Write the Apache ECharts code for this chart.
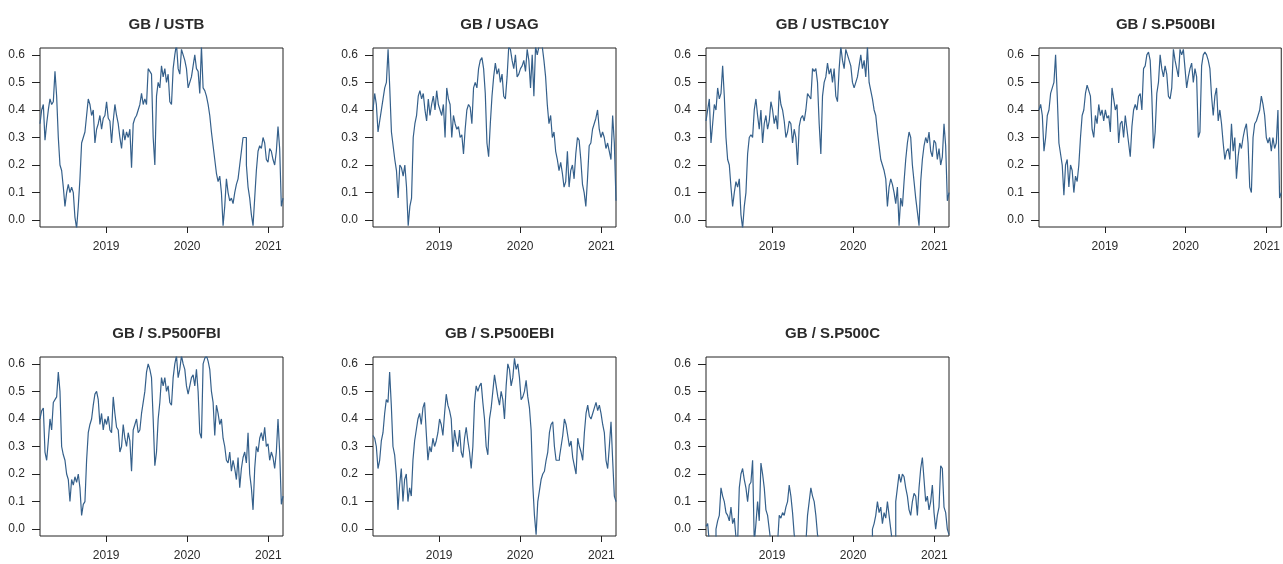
<!DOCTYPE html>
<html>
<head>
<meta charset="utf-8">
<title>GB correlations</title>
<script src="https://cdn.jsdelivr.net/npm/echarts@6/dist/echarts.min.js"></script>
<style>
  html, body { margin: 0; padding: 0; background: #fff; }
  #chart { width: 1283px; height: 564px; }
</style>
</head>
<body>
<div id="chart"></div>
<script>
// panel titles
var titles = ['GB / USTB', 'GB / USAG', 'GB / USTBC10Y', 'GB / S.P500BI',
  'GB / S.P500FBI', 'GB / S.P500EBI', 'GB / S.P500C']

// date range shown on every panel (roughly weekly samples)
var startDate = '2018-03-09'
var endDate = '2021-03-08'
var yearTicks = ['2019-01-01', '2020-01-01', '2021-01-01']
var yTicks = [0, 0.1, 0.2, 0.3, 0.4, 0.5, 0.6]

var ustb = [0.35, 0.40, 0.42, 0.29, 0.35, 0.40, 0.44, 0.42, 0.43, 0.54, 0.45, 0.30, 0.20, 0.18, 0.12, 0.05,
  0.10, 0.13, 0.10, 0.12, 0.10, 0.01, -0.03, 0.05, 0.15, 0.28, 0.30, 0.32, 0.38, 0.44, 0.42, 0.38,
  0.40, 0.28, 0.33, 0.35, 0.38, 0.33, 0.37, 0.38, 0.43, 0.37, 0.36, 0.28, 0.36, 0.42, 0.38, 0.35,
  0.30, 0.26, 0.33, 0.29, 0.32, 0.30, 0.33, 0.19, 0.35, 0.37, 0.38, 0.40, 0.42, 0.46, 0.42, 0.44,
  0.42, 0.55, 0.54, 0.53, 0.30, 0.20, 0.45, 0.50, 0.48, 0.56, 0.52, 0.55, 0.50, 0.53, 0.43, 0.42,
  0.55, 0.60, 0.64, 0.55, 0.53, 0.62, 0.60, 0.58, 0.55, 0.48, 0.50, 0.52, 0.56, 0.60, 0.55, 0.54,
  0.46, 0.63, 0.48, 0.47, 0.45, 0.42, 0.38, 0.32, 0.27, 0.22, 0.17, 0.14, 0.16, 0.10, -0.02, 0.05,
  0.15, 0.10, 0.07, 0.08, 0.06, 0.10, 0.13, 0.15, 0.20, 0.25, 0.30, 0.30, 0.20, 0.12, 0.08, 0.02,
  -0.02, 0.08, 0.18, 0.25, 0.27, 0.26, 0.30, 0.28, 0.22, 0.21, 0.26, 0.25, 0.22, 0.20, 0.25, 0.34,
  0.26, 0.05, 0.08]

var usag = [0.40, 0.46, 0.42, 0.32, 0.36, 0.40, 0.44, 0.48, 0.50, 0.62, 0.48, 0.32, 0.27, 0.22, 0.18, 0.08,
  0.20, 0.19, 0.16, 0.20, 0.12, -0.02, 0.05, 0.08, 0.30, 0.35, 0.38, 0.45, 0.47, 0.44, 0.46, 0.40,
  0.36, 0.44, 0.38, 0.42, 0.45, 0.40, 0.47, 0.42, 0.40, 0.38, 0.42, 0.30, 0.48, 0.44, 0.42, 0.30,
  0.38, 0.35, 0.33, 0.34, 0.30, 0.31, 0.24, 0.33, 0.40, 0.42, 0.41, 0.35, 0.48, 0.50, 0.48, 0.55,
  0.58, 0.59, 0.55, 0.46, 0.28, 0.23, 0.35, 0.45, 0.52, 0.57, 0.53, 0.55, 0.50, 0.53, 0.45, 0.44,
  0.52, 0.63, 0.62, 0.58, 0.55, 0.60, 0.52, 0.53, 0.55, 0.56, 0.58, 0.54, 0.62, 0.58, 0.48, 0.60,
  0.45, 0.63, 0.60, 0.63, 0.63, 0.63, 0.58, 0.52, 0.42, 0.35, 0.38, 0.30, 0.32, 0.25, 0.22, 0.18,
  0.21, 0.17, 0.12, 0.14, 0.25, 0.12, 0.18, 0.20, 0.15, 0.24, 0.30, 0.29, 0.22, 0.13, 0.10, 0.05,
  0.15, 0.27, 0.28, 0.33, 0.35, 0.37, 0.40, 0.33, 0.30, 0.32, 0.30, 0.26, 0.28, 0.25, 0.22, 0.38,
  0.28, 0.07]

var ustbc10y = [0.36, 0.40, 0.44, 0.28, 0.35, 0.42, 0.40, 0.48, 0.44, 0.46, 0.56, 0.45, 0.30, 0.22, 0.20, 0.12,
  0.05, 0.10, 0.14, 0.12, 0.15, 0.02, -0.03, 0.05, 0.10, 0.24, 0.30, 0.31, 0.30, 0.40, 0.44, 0.38,
  0.33, 0.40, 0.28, 0.35, 0.38, 0.33, 0.36, 0.43, 0.40, 0.35, 0.38, 0.33, 0.47, 0.42, 0.40, 0.36,
  0.30, 0.32, 0.36, 0.35, 0.28, 0.33, 0.30, 0.20, 0.34, 0.37, 0.38, 0.36, 0.40, 0.46, 0.45, 0.44,
  0.55, 0.54, 0.55, 0.50, 0.35, 0.24, 0.45, 0.50, 0.52, 0.57, 0.53, 0.55, 0.50, 0.55, 0.45, 0.43,
  0.55, 0.63, 0.58, 0.55, 0.62, 0.60, 0.58, 0.56, 0.50, 0.48, 0.50, 0.52, 0.56, 0.60, 0.55, 0.58,
  0.52, 0.63, 0.50, 0.47, 0.44, 0.40, 0.38, 0.32, 0.27, 0.22, 0.20, 0.18, 0.15, 0.05, 0.12, 0.15,
  0.13, 0.10, 0.06, 0.12, -0.02, 0.08, 0.05, 0.14, 0.22, 0.28, 0.32, 0.30, 0.20, 0.14, 0.08, 0.03,
  -0.02, 0.14, 0.22, 0.27, 0.30, 0.28, 0.32, 0.25, 0.23, 0.29, 0.28, 0.22, 0.26, 0.20, 0.23, 0.35,
  0.27, 0.07, 0.10]

var sp500bi = [0.40, 0.42, 0.38, 0.25, 0.30, 0.38, 0.40, 0.46, 0.48, 0.50, 0.60, 0.45, 0.28, 0.24, 0.20, 0.09,
  0.20, 0.22, 0.12, 0.20, 0.18, 0.10, 0.16, 0.14, 0.20, 0.30, 0.38, 0.40, 0.46, 0.49, 0.47, 0.45,
  0.33, 0.30, 0.38, 0.35, 0.42, 0.38, 0.40, 0.36, 0.40, 0.37, 0.38, 0.32, 0.48, 0.44, 0.40, 0.42,
  0.28, 0.35, 0.36, 0.30, 0.38, 0.33, 0.28, 0.23, 0.34, 0.40, 0.42, 0.40, 0.45, 0.46, 0.40, 0.55,
  0.56, 0.60, 0.61, 0.58, 0.45, 0.26, 0.32, 0.46, 0.50, 0.60, 0.55, 0.52, 0.56, 0.53, 0.45, 0.44,
  0.48, 0.62, 0.58, 0.55, 0.52, 0.62, 0.60, 0.62, 0.55, 0.48, 0.52, 0.55, 0.57, 0.50, 0.55, 0.52,
  0.30, 0.32, 0.56, 0.60, 0.61, 0.60, 0.58, 0.55, 0.45, 0.38, 0.45, 0.48, 0.36, 0.40, 0.35, 0.28,
  0.22, 0.25, 0.26, 0.22, 0.35, 0.25, 0.30, 0.15, 0.23, 0.28, 0.26, 0.30, 0.33, 0.35, 0.28, 0.12,
  0.10, 0.30, 0.35, 0.36, 0.38, 0.40, 0.45, 0.42, 0.38, 0.30, 0.28, 0.30, 0.25, 0.30, 0.26, 0.28,
  0.40, 0.08, 0.10]

var sp500fbi = [0.40, 0.43, 0.44, 0.28, 0.25, 0.32, 0.40, 0.36, 0.46, 0.47, 0.48, 0.57, 0.50, 0.30, 0.27, 0.25,
  0.20, 0.18, 0.10, 0.18, 0.16, 0.19, 0.17, 0.20, 0.15, 0.05, 0.09, 0.10, 0.25, 0.35, 0.38, 0.40,
  0.45, 0.49, 0.50, 0.47, 0.38, 0.42, 0.36, 0.40, 0.38, 0.41, 0.36, 0.35, 0.48, 0.42, 0.37, 0.36,
  0.28, 0.30, 0.38, 0.33, 0.30, 0.35, 0.32, 0.21, 0.36, 0.38, 0.40, 0.35, 0.36, 0.42, 0.46, 0.50,
  0.57, 0.60, 0.58, 0.55, 0.40, 0.23, 0.28, 0.40, 0.46, 0.55, 0.52, 0.55, 0.50, 0.52, 0.46, 0.45,
  0.55, 0.60, 0.63, 0.55, 0.58, 0.63, 0.60, 0.58, 0.52, 0.49, 0.52, 0.55, 0.56, 0.52, 0.58, 0.50,
  0.35, 0.33, 0.60, 0.62, 0.63, 0.61, 0.58, 0.50, 0.46, 0.34, 0.45, 0.42, 0.38, 0.40, 0.33, 0.30,
  0.25, 0.24, 0.28, 0.21, 0.25, 0.22, 0.18, 0.26, 0.15, 0.22, 0.26, 0.28, 0.24, 0.35, 0.20, 0.15,
  0.07, 0.22, 0.30, 0.28, 0.33, 0.35, 0.32, 0.37, 0.30, 0.31, 0.25, 0.28, 0.26, 0.22, 0.28, 0.40,
  0.28, 0.09, 0.12]

var sp500ebi = [0.34, 0.33, 0.30, 0.22, 0.25, 0.32, 0.35, 0.42, 0.47, 0.46, 0.57, 0.45, 0.30, 0.27, 0.20, 0.07,
  0.16, 0.22, 0.10, 0.18, 0.20, 0.10, 0.15, 0.12, 0.25, 0.32, 0.36, 0.40, 0.42, 0.38, 0.44, 0.46,
  0.35, 0.25, 0.30, 0.28, 0.33, 0.30, 0.32, 0.35, 0.40, 0.38, 0.34, 0.42, 0.49, 0.45, 0.43, 0.40,
  0.28, 0.36, 0.32, 0.30, 0.36, 0.28, 0.26, 0.33, 0.37, 0.32, 0.28, 0.22, 0.30, 0.46, 0.52, 0.50,
  0.52, 0.53, 0.46, 0.40, 0.30, 0.27, 0.40, 0.44, 0.50, 0.56, 0.52, 0.48, 0.45, 0.50, 0.47, 0.40,
  0.52, 0.60, 0.58, 0.52, 0.55, 0.62, 0.58, 0.60, 0.55, 0.47, 0.48, 0.50, 0.54, 0.48, 0.44, 0.36,
  0.16, 0.05, -0.02, 0.10, 0.14, 0.18, 0.20, 0.21, 0.25, 0.28, 0.35, 0.38, 0.39, 0.30, 0.25, 0.25,
  0.26, 0.30, 0.34, 0.40, 0.38, 0.34, 0.30, 0.32, 0.26, 0.23, 0.20, 0.33, 0.30, 0.28, 0.25, 0.35,
  0.42, 0.45, 0.41, 0.40, 0.42, 0.44, 0.46, 0.43, 0.45, 0.42, 0.38, 0.35, 0.25, 0.22, 0.30, 0.39,
  0.25, 0.12, 0.10]

// values under the axis floor are clipped, as in the original
var sp500c = [0.01, 0.02, -0.05, -0.05, -0.05, -0.05, 0.00, 0.03, 0.05, 0.15, 0.12, 0.10, 0.06, 0.05, 0.03, 0.08,
  0.02, 0.04, -0.03, -0.05, 0.15, 0.20, 0.22, 0.18, 0.15, 0.10, 0.16, 0.17, 0.25, -0.05, 0.02, 0.10,
  0.03, 0.24, 0.20, 0.15, 0.07, 0.05, 0.00, -0.05, -0.05, -0.05, -0.05, -0.05, 0.05, 0.04, 0.06, 0.05,
  0.08, 0.10, 0.16, 0.12, 0.06, -0.02, -0.05, -0.05, -0.05, -0.05, -0.05, -0.05, -0.05, 0.05, 0.10, 0.15,
  0.12, 0.10, 0.05, -0.02, -0.05, -0.05, -0.05, -0.05, -0.05, -0.05, -0.05, -0.05, -0.05, -0.05, -0.05, -0.05,
  -0.05, -0.05, -0.05, -0.05, -0.05, -0.05, -0.05, -0.05, -0.05, -0.05, -0.05, -0.05, -0.05, -0.05, -0.05, -0.05,
  -0.05, -0.05, -0.05, -0.05, 0.00, 0.02, 0.05, 0.10, 0.06, 0.08, 0.02, 0.06, 0.04, 0.10, 0.05, 0.00,
  -0.05, -0.05, 0.10, 0.15, 0.20, 0.17, 0.20, 0.19, 0.15, 0.12, 0.07, 0.05, 0.10, 0.13, 0.12, 0.05,
  0.15, 0.22, 0.26, 0.18, 0.10, 0.12, 0.07, 0.10, 0.16, 0.06, 0.00, 0.05, 0.08, 0.23, 0.22, 0.08,
  0.06, 0.00, -0.02]

var allSeries = [ustb, usag, ustbc10y, sp500bi, sp500fbi, sp500ebi, sp500c]

var chart = echarts.init(document.getElementById('chart'), null, { renderer: 'canvas' })

var lineColor = '#35608b'
var textColor = '#2b2b2b'
var font = 'Liberation Sans, Arial, sans-serif'
var t0 = Date.parse(startDate + 'T00:00:00Z')
var t1 = Date.parse(endDate + 'T00:00:00Z')
var xTicks = yearTicks.map(function (d) { return Date.parse(d + 'T00:00:00Z') })
var panelLeft = [40, 373, 706, 1039]
var panelTop = [48, 357]
var panelW = 243
var panelH = 179

// spread the samples of one series over the shown date range
function withDates(values) {
  var step = (t1 - t0) / (values.length - 1)
  var out = []
  for (var i = 0; i < values.length; i++) {
    out.push([t0 + i * step, values[i]])
  }
  return out
}

var grids = [], xAxes = [], yAxes = [], series = [], titleList = []
allSeries.forEach(function (values, k) {
  var px = panelLeft[k % 4]
  var py = panelTop[Math.floor(k / 4)]
  grids.push({
    left: px, top: py, width: panelW, height: panelH,
    show: true, borderColor: '#222', borderWidth: 1
  })
  titleList.push({
    text: titles[k],
    left: px + panelW / 2,
    top: py - 36,
    textAlign: 'center',
    textStyle: { fontFamily: font, fontSize: 15, fontWeight: 'bold', color: textColor }
  })
  xAxes.push({
    type: 'value', gridIndex: k, min: t0, max: t1,
    axisLine: { show: false, onZero: false },
    splitLine: { show: false },
    axisTick: { show: true, length: 6, lineStyle: { color: '#222' }, customValues: xTicks },
    axisLabel: {
      fontFamily: font, fontSize: 12, color: textColor, margin: 14,
      customValues: xTicks,
      formatter: function (v) { return String(new Date(v).getUTCFullYear()) }
    }
  })
  yAxes.push({
    type: 'value', gridIndex: k, min: -0.025, max: 0.625,
    axisLine: { show: false, onZero: false },
    splitLine: { show: false },
    axisTick: { show: true, length: 8, lineStyle: { color: '#222' }, customValues: yTicks },
    axisLabel: {
      fontFamily: font, fontSize: 12, color: textColor, margin: 15,
      customValues: yTicks,
      formatter: function (v) { return v.toFixed(1) }
    }
  })
  series.push({
    type: 'line', xAxisIndex: k, yAxisIndex: k,
    data: withDates(values),
    showSymbol: false, step: 'end', clip: true,
    lineStyle: { color: lineColor, width: 1.2 }
  })
})

chart.setOption({
  backgroundColor: '#fff',
  animation: false,
  title: titleList,
  grid: grids,
  xAxis: xAxes,
  yAxis: yAxes,
  series: series
})
</script>
</body>
</html>
